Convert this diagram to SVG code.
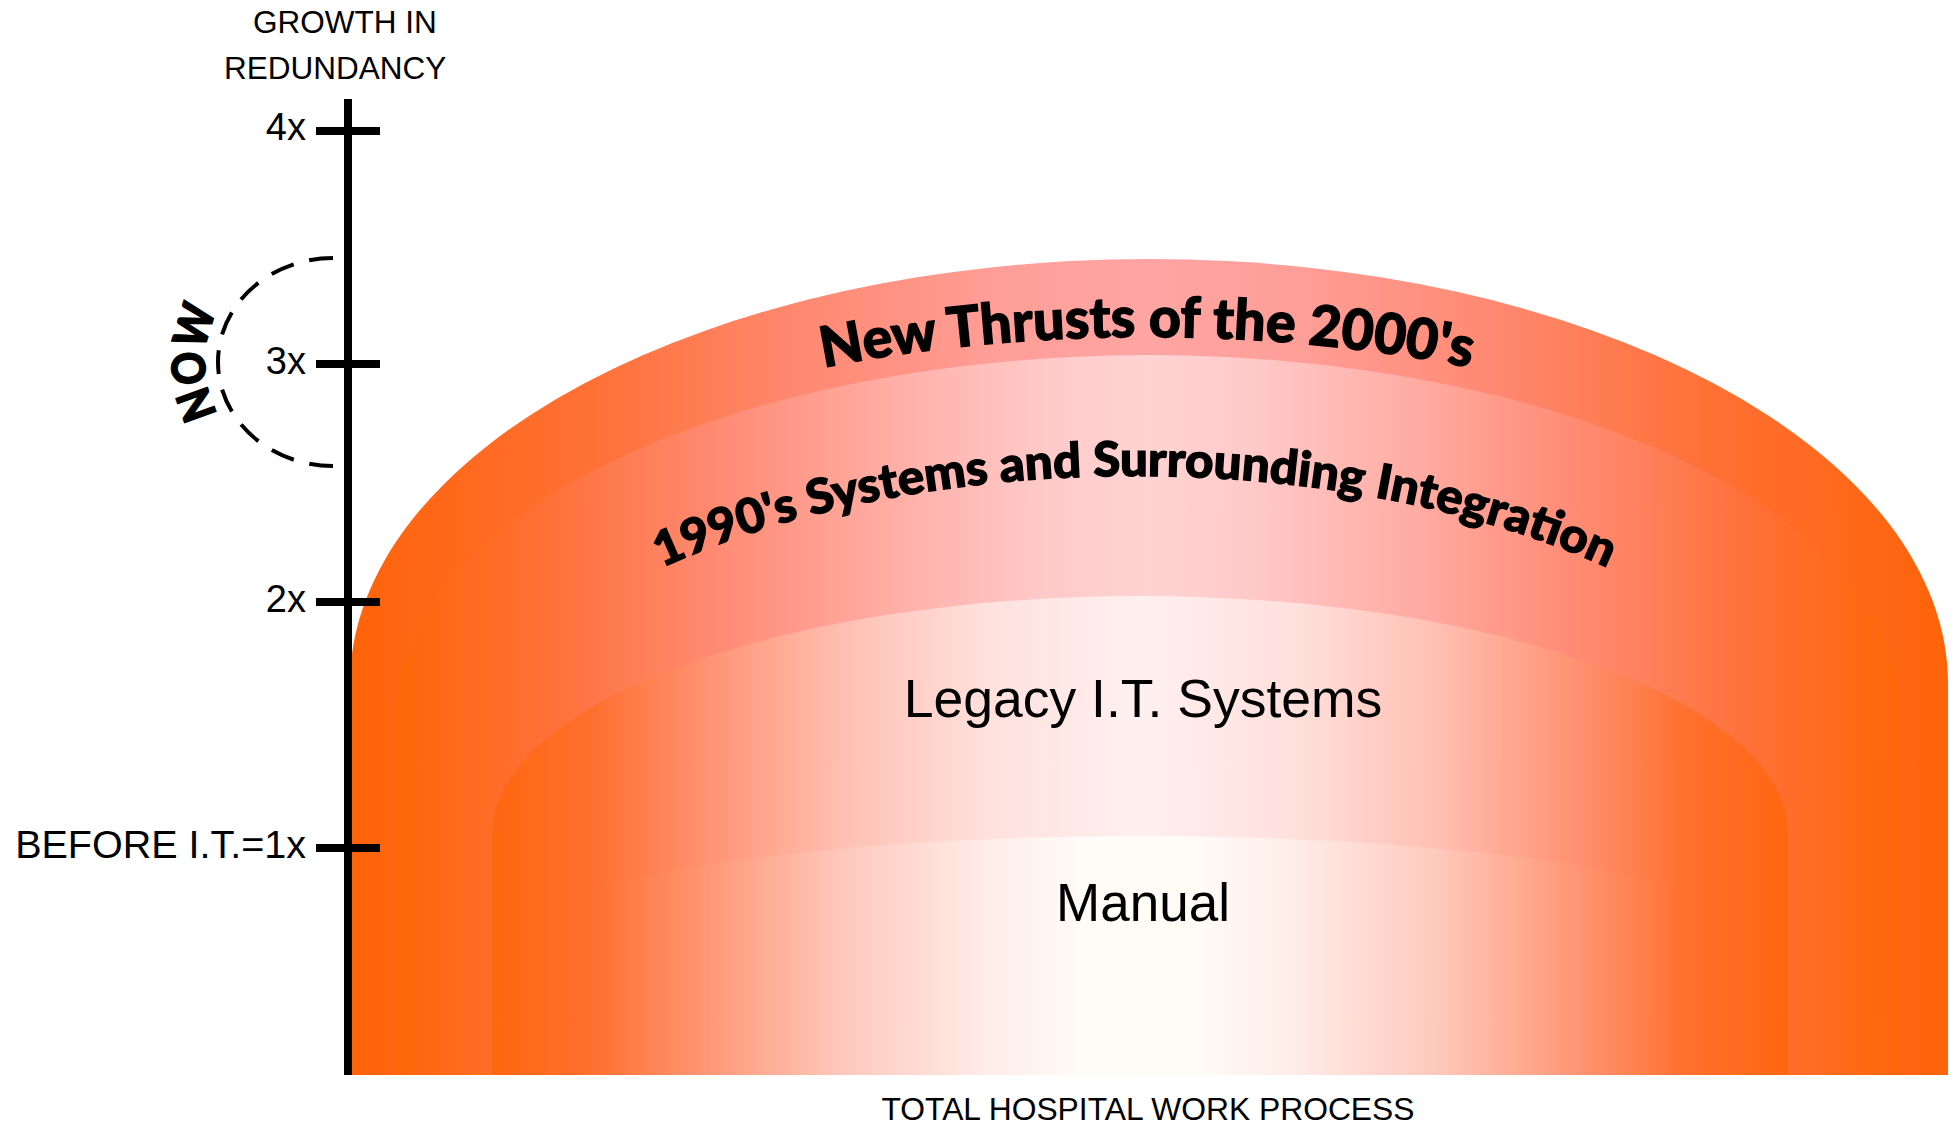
<svg xmlns="http://www.w3.org/2000/svg" width="1955" height="1125" viewBox="0 0 1955 1125">
<style>
.lbl { font-family: "Liberation Sans", Arial, sans-serif; fill: #000; }
.heavy { font-family: Lato, Roboto, "DejaVu Sans", sans-serif; font-weight: 900; fill: #000; stroke: #000; stroke-width: 1.3; }
.axis { stroke: #000; stroke-width: 8; fill: none; }
.dash { stroke: #000; stroke-width: 4; fill: none; stroke-dasharray: 24 16; }
</style>
<defs>
<linearGradient id="gOuter" x1="0" y1="0" x2="1" y2="0">
<stop offset="0" stop-color="#FF6308"/>
<stop offset="0.15" stop-color="#FF7035"/>
<stop offset="0.28" stop-color="#FF8870"/>
<stop offset="0.4" stop-color="#FF9D96"/>
<stop offset="0.5" stop-color="#FFA5A4"/>
<stop offset="0.6" stop-color="#FF9D96"/>
<stop offset="0.72" stop-color="#FF8870"/>
<stop offset="0.85" stop-color="#FF7035"/>
<stop offset="1" stop-color="#FF6308"/>
</linearGradient>
<linearGradient id="gSecond" x1="0" y1="0" x2="1" y2="0">
<stop offset="0" stop-color="#FF6608"/>
<stop offset="0.1" stop-color="#FF7038"/>
<stop offset="0.22" stop-color="#FF8C76"/>
<stop offset="0.33" stop-color="#FFAEA6"/>
<stop offset="0.43" stop-color="#FFC9C8"/>
<stop offset="0.5" stop-color="#FFD3D3"/>
<stop offset="0.57" stop-color="#FFC9C8"/>
<stop offset="0.67" stop-color="#FFAEA6"/>
<stop offset="0.78" stop-color="#FF8C76"/>
<stop offset="0.9" stop-color="#FF7038"/>
<stop offset="1" stop-color="#FF6608"/>
</linearGradient>
<linearGradient id="gLegacy" x1="0" y1="0" x2="1" y2="0">
<stop offset="0" stop-color="#FF6610"/>
<stop offset="0.08" stop-color="#FF7030"/>
<stop offset="0.16" stop-color="#FF9070"/>
<stop offset="0.27" stop-color="#FFBFB2"/>
<stop offset="0.38" stop-color="#FFE0DC"/>
<stop offset="0.5" stop-color="#FFF0F0"/>
<stop offset="0.62" stop-color="#FFE0DC"/>
<stop offset="0.73" stop-color="#FFBFB2"/>
<stop offset="0.84" stop-color="#FF9070"/>
<stop offset="0.92" stop-color="#FF7030"/>
<stop offset="1" stop-color="#FF6610"/>
</linearGradient>
<linearGradient id="gManual" x1="0" y1="0" x2="1" y2="0">
<stop offset="0" stop-color="#FF6610"/>
<stop offset="0.08" stop-color="#FF7030"/>
<stop offset="0.16" stop-color="#FF9472"/>
<stop offset="0.27" stop-color="#FFC8BC"/>
<stop offset="0.38" stop-color="#FFECE8"/>
<stop offset="0.46" stop-color="#FFFCF8"/>
<stop offset="0.54" stop-color="#FFFCF6"/>
<stop offset="0.62" stop-color="#FFECE8"/>
<stop offset="0.73" stop-color="#FFC8BC"/>
<stop offset="0.84" stop-color="#FF9472"/>
<stop offset="0.92" stop-color="#FF7030"/>
<stop offset="1" stop-color="#FF6610"/>
</linearGradient>
<path id="pNew" d="M 647 416 A 780 340 0 0 1 1647 416"/>
<path id="p1990" d="M 485 696 A 700 350 0 0 1 1785 696"/>
<path id="pNow" d="M 333 480 A 128 118 0 0 1 333 244"/>
</defs>
<rect width="1955" height="1125" fill="#ffffff"/>

<g id="layer-new-thrusts">
<path d="M 350 1075 L 350 684 A 799 425 0 0 1 1948 684 L 1948 1075 Z" fill="url(#gOuter)"/>
<text class="heavy" font-size="56"><textPath href="#pNew" startOffset="50%" text-anchor="middle" textLength="650" lengthAdjust="spacingAndGlyphs">New Thrusts of the 2000's</textPath></text>
</g>

<g id="layer-1990s">
<path d="M 396 1075 L 396 710 A 752 355 0 0 1 1900 710 L 1900 1075 Z" fill="url(#gSecond)"/>
<text class="heavy" font-size="48"><textPath href="#p1990" startOffset="50%" text-anchor="middle" textLength="970" lengthAdjust="spacingAndGlyphs">1990's Systems and Surrounding Integration</textPath></text>
</g>

<g id="layer-legacy">
<path d="M 492 1075 L 492 834 A 648 238 0 0 1 1788 834 L 1788 1075 Z" fill="url(#gLegacy)"/>
<text class="lbl" x="1143" y="717" font-size="53.5" text-anchor="middle">Legacy I.T. Systems</text>
</g>

<g id="layer-manual">
<path d="M 492 1075 L 492 948 A 648 112 0 0 1 1788 948 L 1788 1075 Z" fill="url(#gManual)"/>
<text class="lbl" x="1143" y="921" font-size="53" text-anchor="middle">Manual</text>
</g>

<g id="axis">
<line class="axis" x1="348" y1="99" x2="348" y2="1075"/>
<line class="axis" x1="316" y1="131" x2="380" y2="131"/>
<line class="axis" x1="316" y1="364" x2="380" y2="364"/>
<line class="axis" x1="316" y1="602" x2="380" y2="602"/>
<line class="axis" x1="316" y1="848" x2="380" y2="848"/>
<text class="lbl" x="253" y="33" font-size="31.5">GROWTH IN</text>
<text class="lbl" x="224" y="79" font-size="31.5">REDUNDANCY</text>
<text class="lbl" x="306" y="140" font-size="38" text-anchor="end">4x</text>
<text class="lbl" x="306" y="374" font-size="38" text-anchor="end">3x</text>
<text class="lbl" x="306" y="612" font-size="38" text-anchor="end">2x</text>
<text class="lbl" x="306" y="858" font-size="39.5" text-anchor="end">BEFORE I.T.=1x</text>
<text class="lbl" x="1148" y="1120" font-size="31.8" text-anchor="middle">TOTAL HOSPITAL WORK PROCESS</text>
</g>

<g id="now-marker">
<path class="dash" d="M 333 258 A 115 104 0 0 0 333 466"/>
<text class="heavy" font-size="46"><textPath href="#pNow" startOffset="50%" text-anchor="middle" textLength="108" lengthAdjust="spacingAndGlyphs">NOW</textPath></text>
</g>
</svg>
